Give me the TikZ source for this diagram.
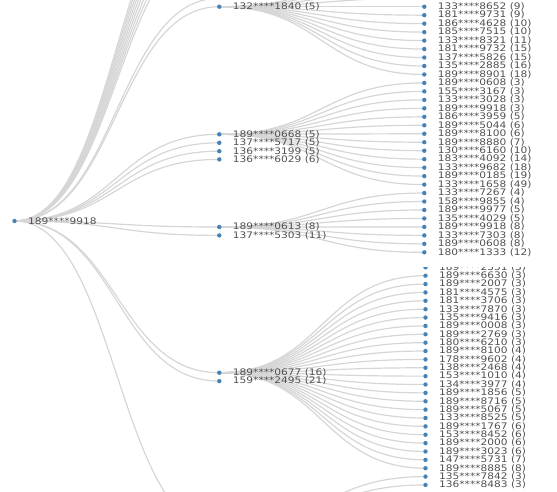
\documentclass[tikz,border=0pt]{standalone}
\usepackage{fontspec}
\setmainfont{DejaVu Sans}
\usetikzlibrary{positioning,calc,backgrounds}
\definecolor{nodeblue}{HTML}{4682B4}
\definecolor{linkgray}{HTML}{D6D6D6}
\definecolor{labelgray}{HTML}{505050}

\tikzset{
  leafdot/.style={circle, fill=nodeblue, inner sep=0pt, minimum size=4.4pt},
  phonelbl/.style={anchor=west, inner sep=0pt, xscale=1.18, text=labelgray, font=\fontsize{9}{9}\selectfont},
  treeedge/.style={draw=linkgray, line width=1.2pt}
}
% horizontal tree link, control points halfway
\newcommand{\treelink}[2]{%
  \draw[treeedge] let \p1=(#1.center), \p2=(#2.center) in
    (\p1) .. controls ({(\x1+\x2)/2},\y1) and ({(\x1+\x2)/2},\y2) .. (\p2);}

\begin{document}
\begin{tikzpicture}[x=1pt, y=-1pt]
  \useasboundingbox (0,0) rectangle (557,491);
  % Root
  \node[leafdot] (root) at (14.5,221) {};
  \node[phonelbl, right=11pt of root] (rootlbl) {189****9918};
  % Second level
  \foreach \nm/\yy/\txt in {m1/6.7/132****1840 (5), m2/134.3/189****0668 (5),
      m3/142.8/137****5717 (5), m4/151.2/136****3199 (5), m5/159.4/136****6029 (6),
      m6/227/189****0613 (8), m7/235.4/137****5303 (11),
      m8/372.7/189****0677 (16), m9/381.1/159****2495 (21)} {
    \node[leafdot] (\nm) at (219.3,\yy) {};
    \node[phonelbl, right=11pt of \nm] {\txt};
  }
  % Leaves, upper block
  \foreach \txt [count=\i from 0] in {133****8652 (9), 181****9731 (9), 186****4628 (10),
      185****7515 (10), 133****8321 (11), 181****9732 (15), 137****5826 (15),
      135****2885 (16), 189****8901 (18), 189****0608 (3), 155****3167 (3),
      133****3028 (3), 189****9918 (3), 186****3959 (5), 189****5044 (6),
      189****8100 (6), 189****8880 (7), 130****6160 (10), 183****4092 (14),
      133****9682 (18), 189****0185 (19), 133****1658 (49), 133****7267 (4),
      158****9855 (4), 189****9977 (5), 135****4029 (5), 189****9918 (8),
      133****7303 (8), 189****0608 (8), 180****1333 (12)} {
    \node[leafdot] (t\i) at (424.3,{6.7+8.47*\i}) {};
    \node[phonelbl, right=11pt of t\i] {\txt};
  }
  % Leaves, lower block
  \foreach \txt [count=\i from 0] in {189****6630 (3), 189****2007 (3), 181****4575 (3),
      181****3706 (3), 133****7870 (3), 135****9416 (3), 189****0008 (3),
      189****2769 (3), 180****6210 (3), 189****8100 (4), 178****9602 (4),
      138****2468 (4), 153****1010 (4), 134****3977 (4), 189****1856 (5),
      189****8716 (5), 189****5067 (5), 133****8525 (5), 189****1767 (6),
      153****8452 (6), 189****2000 (6), 189****3023 (6), 147****5731 (7),
      189****8885 (8), 135****7842 (3), 136****8483 (3)} {
    \node[leafdot] (b\i) at (425.5,{275.7+8.37*\i}) {};
    \node[phonelbl, right=11pt of b\i] {\txt};
  }
  % row cut off at the seam
  \begin{scope}
    \clip (380,267.5) rectangle (557,280);
    \node[leafdot] (bcut) at (425.5,267.3) {};
    \node[phonelbl, right=11pt of bcut] {189****2551 (3)};
  \end{scope}
  % Off-screen ends
  \coordinate (m0) at (219.3,-1.8);
  \foreach \k in {0,...,8} {\coordinate (up\k) at (219.3,{-60-8.47*\k});}
  \foreach \k in {1,...,4} {\coordinate (tu\k) at (424.3,{6.7-8.47*\k});}
  \coordinate (mlow) at (219.3,530);
  % Links
  \begin{scope}[on background layer]
    \foreach \k in {0,...,8} {\treelink{root}{up\k}}
    \foreach \nm in {m0,m1,m2,m3,m4,m5,m6,m7,m8,m9,mlow} {\treelink{root}{\nm}}
    \foreach \k in {1,...,4} {\treelink{m1}{tu\k}}
    \foreach \i in {0,...,8} {\treelink{m1}{t\i}}
    \foreach \i in {9,...,21} {\treelink{m2}{t\i}}
    \foreach \i in {22,...,29} {\treelink{m6}{t\i}}
    \foreach \i in {0,...,23} {\treelink{m8}{b\i}}
    \foreach \i in {24,25} {\treelink{mlow}{b\i}}
  \end{scope}
\end{tikzpicture}
\end{document}
